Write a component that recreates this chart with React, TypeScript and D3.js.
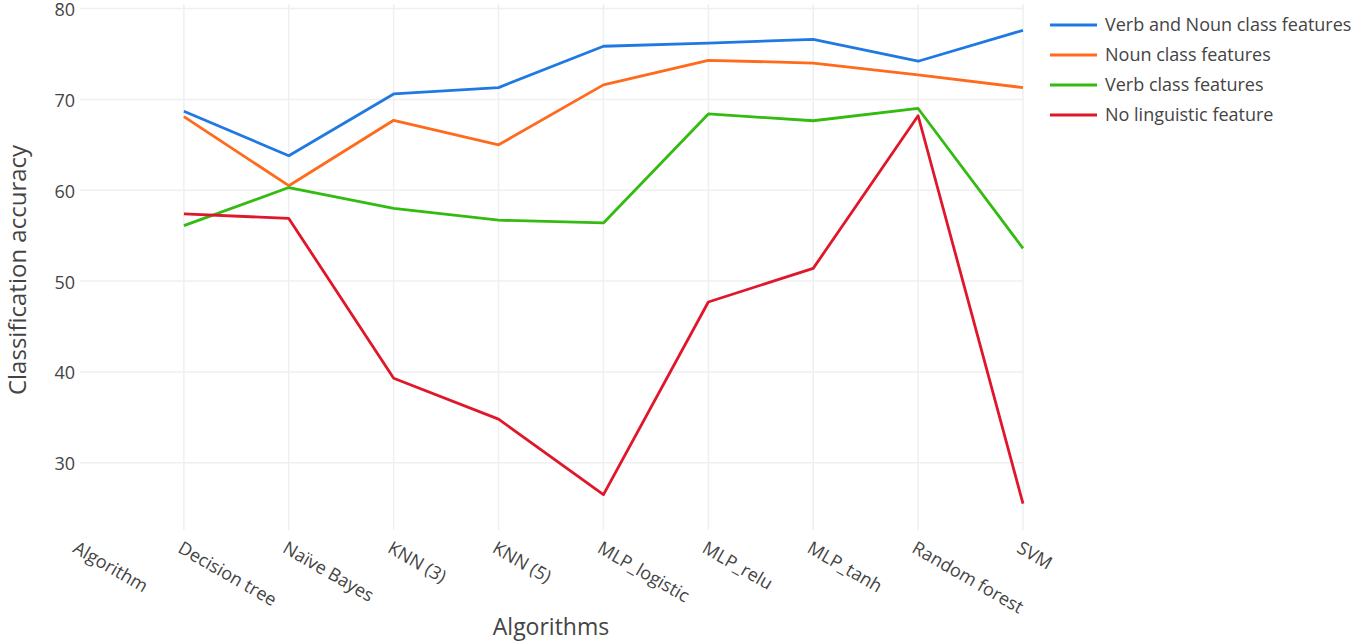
import React from "react";
import * as d3 from "d3";

const categories = [
  "Algorithm",
  "Decision tree",
  "Naïve Bayes",
  "KNN (3)",
  "KNN (5)",
  "MLP_logistic",
  "MLP_relu",
  "MLP_tanh",
  "Random forest",
  "SVM",
];

const verbNoun = [null, 68.7, 63.8, 70.6, 71.3, 75.85, 76.2, 76.6, 74.2, 77.6];
const noun = [null, 68.1, 60.5, 67.7, 65.0, 71.6, 74.3, 74.0, 72.7, 71.3];
const verb = [null, 56.1, 60.3, 58.0, 56.7, 56.4, 68.4, 67.65, 69.0, 53.6];
const noLing = [null, 57.4, 56.9, 39.3, 34.8, 26.5, 47.7, 51.4, 68.2, 25.5];

const seriesNames = [
  "Verb and Noun class features",
  "Noun class features",
  "Verb class features",
  "No linguistic feature",
];
const seriesColors = ["#2079e3", "#ff6a1c", "#33bb11", "#e0162b"];
const seriesValues = [verbNoun, noun, verb, noLing];

const yTicks = [30, 40, 50, 60, 70, 80];

export default function App() {
  const W = 1358;
  const H = 642;
  const left = 79;
  const right = 1023;
  const top = 4;
  const bottom = 530;

  const x = d3.scalePoint<string>().domain(categories).range([left, right]);
  const y = d3.scaleLinear().domain([22.6, 80.5]).range([bottom, top]);

  const line = d3
    .line<number | null>()
    .defined((d) => d !== null)
    .x((_, i) => x(categories[i]) as number)
    .y((d) => y(d as number));

  const font = "'Open Sans', sans-serif";

  return (
    <svg
      width={W}
      height={H}
      style={{ position: "absolute", left: 0, top: 0, background: "#fff" }}
      fontFamily={font}
    >
      {/* horizontal gridlines */}
      {yTicks.map((t) => (
        <line
          key={"hg" + t}
          x1={left + 1}
          x2={right}
          y1={y(t)}
          y2={y(t)}
          stroke="#eef0f0"
          strokeWidth={1.5}
        />
      ))}
      {/* vertical gridlines */}
      {categories.slice(1).map((c) => (
        <line
          key={"vg" + c}
          x1={x(c)}
          x2={x(c)}
          y1={top}
          y2={bottom}
          stroke="#eef0f0"
          strokeWidth={1.5}
        />
      ))}
      {/* y tick labels */}
      {yTicks.map((t) => (
        <text
          key={"yt" + t}
          x={75}
          y={y(t) + 1}
          dy="0.36em"
          textAnchor="end"
          fontSize={18}
          fill="#444"
        >
          {t}
        </text>
      ))}
      {/* x tick labels */}
      {categories.map((c) => (
        <text
          key={"xt" + c}
          transform={`translate(${(x(c) as number) - 4},${546}) rotate(30)`}
          dy="0.36em"
          textAnchor="start"
          fontSize={18}
          fill="#444"
        >
          {c}
        </text>
      ))}
      {/* axis titles */}
      <text
        x={551}
        y={627}
        dy="0.36em"
        textAnchor="middle"
        fontSize={23}
        fill="#444"
      >
        Algorithms
      </text>
      <text
        transform={`translate(17,${270}) rotate(-90)`}
        dy="0.36em"
        textAnchor="middle"
        fontSize={24}
        fill="#444"
      >
        Classification accuracy
      </text>
      {/* lines */}
      {seriesValues.map((vals, i) => (
        <path
          key={"s" + i}
          d={line(vals) || ""}
          fill="none"
          stroke={seriesColors[i]}
          strokeWidth={2.8}
          strokeLinejoin="round"
        />
      ))}
      {/* legend */}
      {seriesNames.map((n, i) => (
        <g key={"lg" + i} transform={`translate(1050,${25 + i * 30})`}>
          <line x1={0} x2={47} y1={0} y2={0} stroke={seriesColors[i]} strokeWidth={2.8} />
          <text x={55} y={0} dy="0.36em" fontSize={18} fill="#444">
            {n}
          </text>
        </g>
      ))}
    </svg>
  );
}
